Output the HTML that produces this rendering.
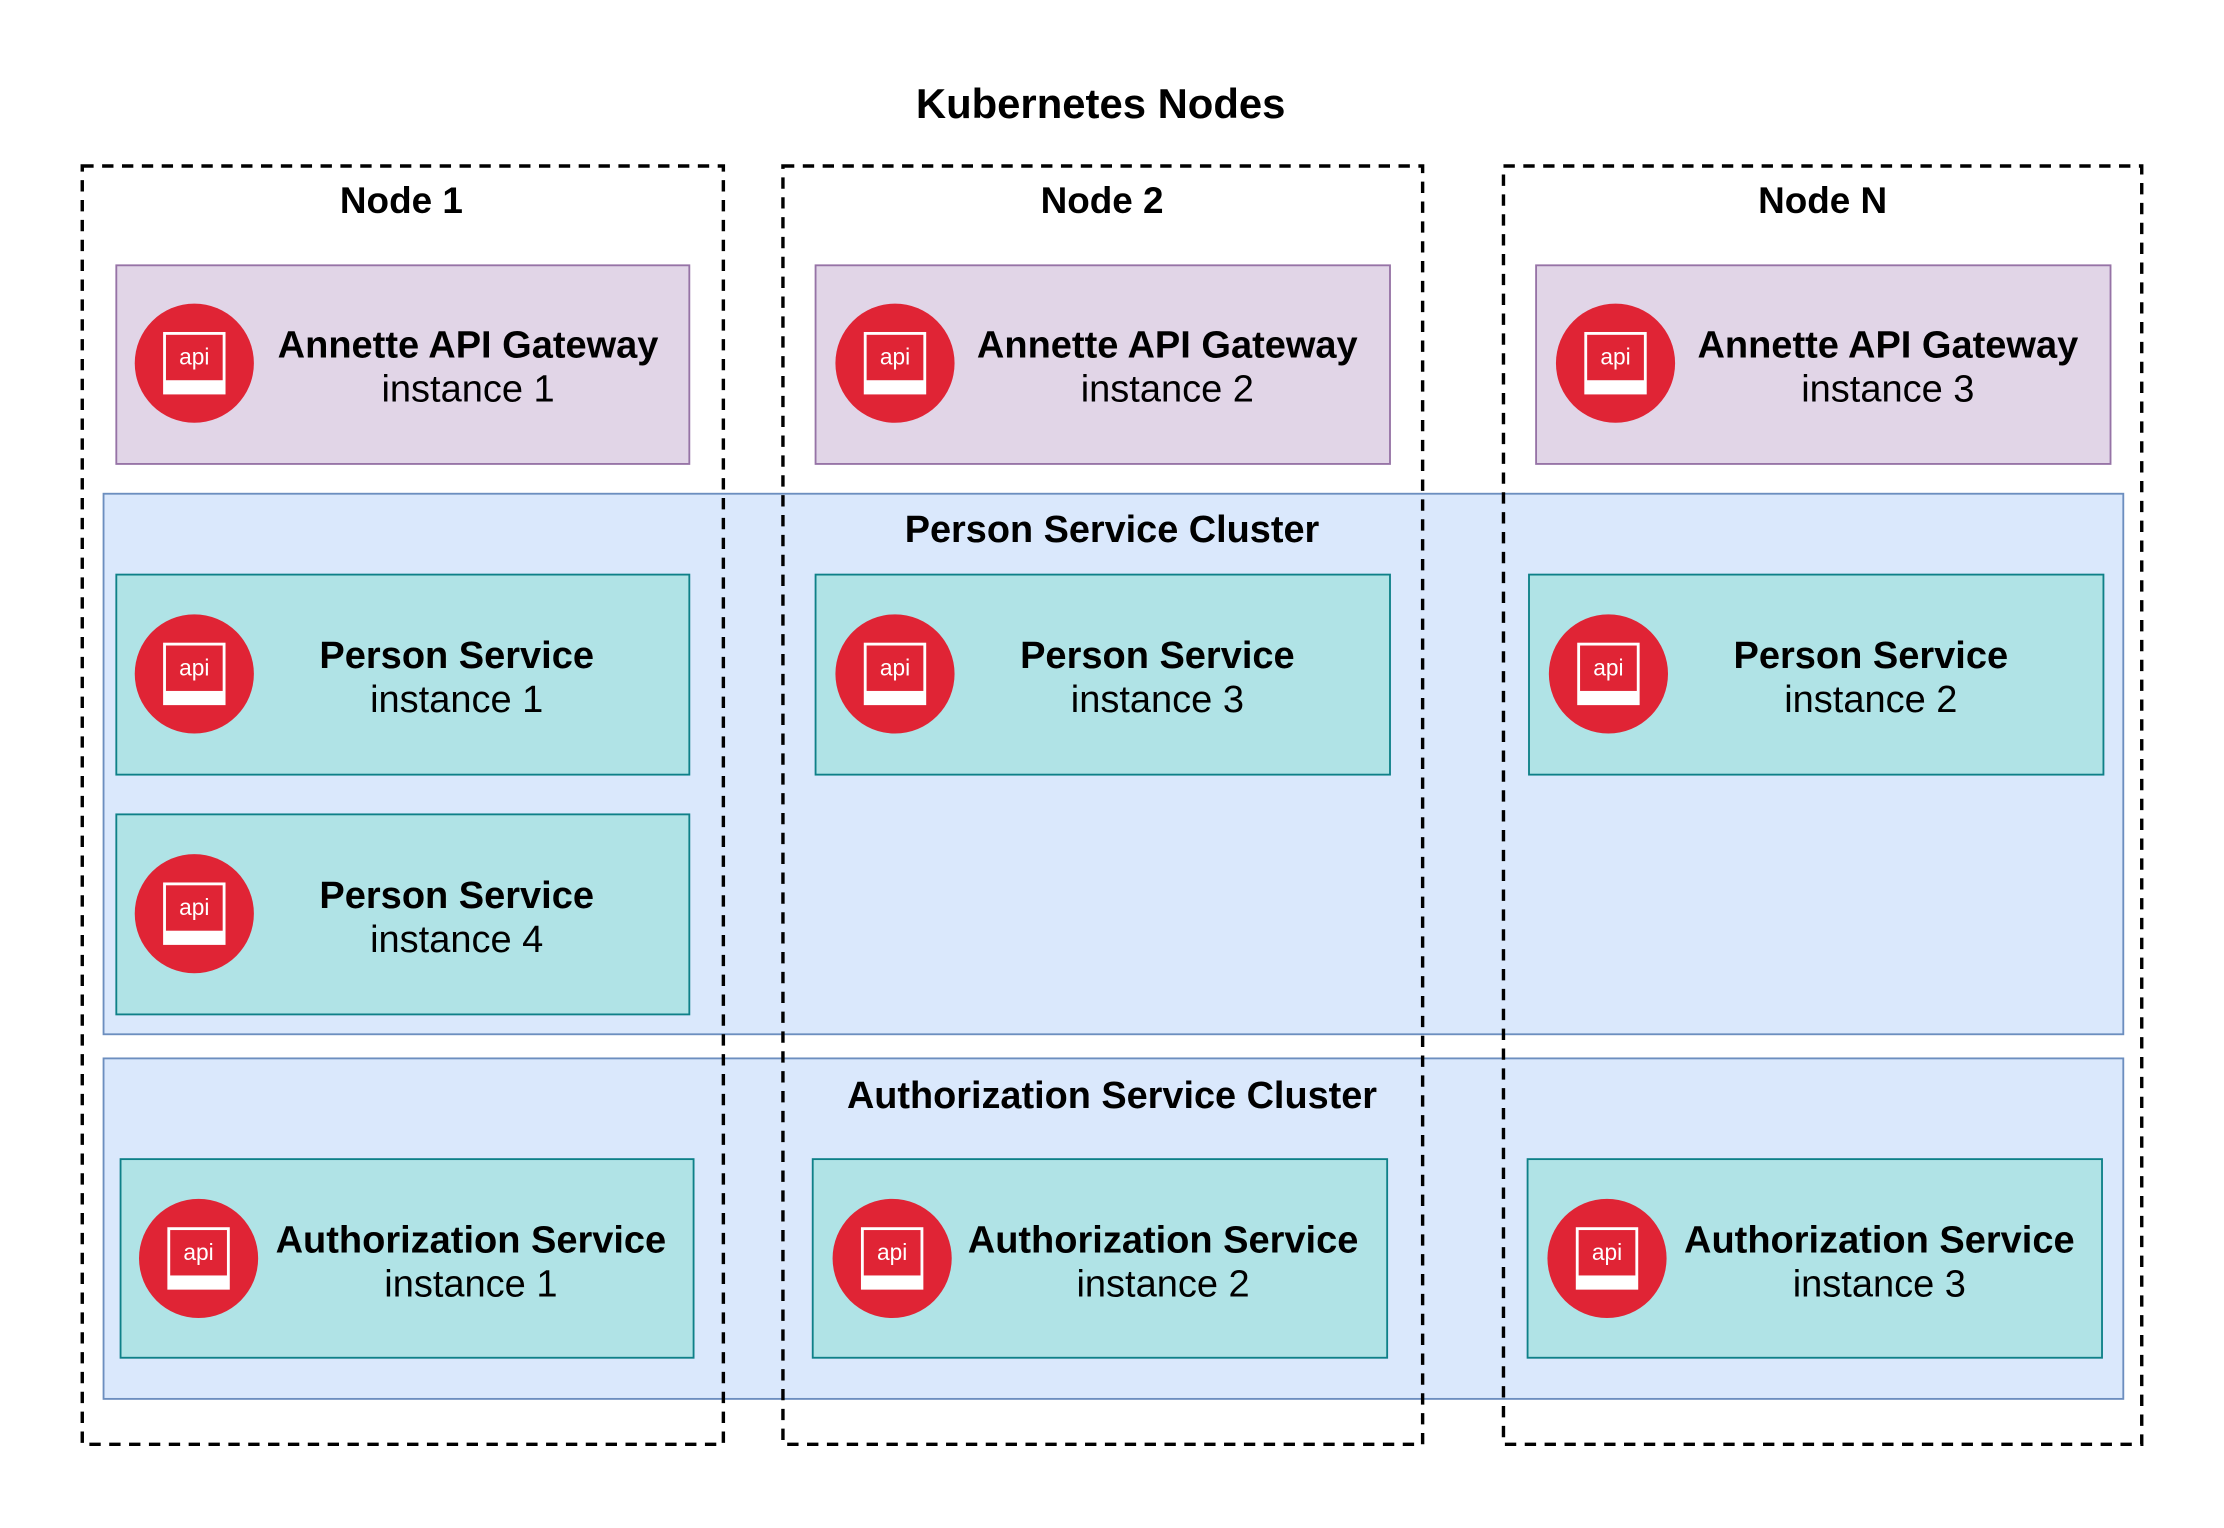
<!DOCTYPE html>
<html><head><meta charset="utf-8"><style>
html,body{margin:0;padding:0;background:#fff;}
svg{display:block;}
text{font-family:"Liberation Sans",Arial,sans-serif;}
</style></head><body>
<svg width="2224" height="1528" viewBox="0 0 1568 1077" preserveAspectRatio="none" xmlns="http://www.w3.org/2000/svg">
<defs>
<g id="ic">
<circle cx="0" cy="0" r="42" fill="#e02435"/>
<rect x="-22" y="-22" width="44" height="44" fill="#fff"/>
<rect x="-20" y="-20" width="40" height="32" fill="#e02435"/>
<text x="0" y="1" font-size="16" fill="#fff" text-anchor="middle">api</text>
</g>
</defs>
<rect width="1568" height="1077" fill="#fff"/>
<text x="776" y="83" font-size="29.5" font-weight="bold" text-anchor="middle">Kubernetes Nodes</text>

<g stroke="#9673a6" stroke-width="1.3" fill="#e1d5e7">
<rect x="82" y="187" width="404" height="140"/>
<rect x="575" y="187" width="405" height="140"/>
<rect x="1083" y="187" width="405" height="140"/>
</g>
<rect x="73" y="348" width="1424" height="381" fill="#dae8fc" stroke="#6c8ebf" stroke-width="1.3"/>
<rect x="73" y="746" width="1424" height="240" fill="#dae8fc" stroke="#6c8ebf" stroke-width="1.3"/>
<text x="784" y="382" font-size="26.7" font-weight="bold" text-anchor="middle">Person Service Cluster</text>
<text x="784" y="781" font-size="26.7" font-weight="bold" text-anchor="middle">Authorization Service Cluster</text>

<g stroke="#0e8088" stroke-width="1.3" fill="#b0e3e6">
<rect x="82" y="405" width="404" height="141"/>
<rect x="575" y="405" width="405" height="141"/>
<rect x="1078" y="405" width="405" height="141"/>
<rect x="82" y="574" width="404" height="141"/>
<rect x="85" y="817" width="404" height="140"/>
<rect x="573" y="817" width="405" height="140"/>
<rect x="1077" y="817" width="405" height="140"/>
</g>

<use href="#ic" x="137" y="256"/>
<use href="#ic" x="631" y="256"/>
<use href="#ic" x="1139" y="256"/>
<use href="#ic" x="137" y="475"/>
<use href="#ic" x="631" y="475"/>
<use href="#ic" x="1134" y="475"/>
<use href="#ic" x="137" y="644"/>
<use href="#ic" x="140" y="887"/>
<use href="#ic" x="629" y="887"/>
<use href="#ic" x="1133" y="887"/>

<g font-size="26.8" text-anchor="middle">
<text x="330" y="252" font-weight="bold">Annette API Gateway</text><text x="330" y="283">instance 1</text>
<text x="823" y="252" font-weight="bold">Annette API Gateway</text><text x="823" y="283">instance 2</text>
<text x="1331" y="252" font-weight="bold">Annette API Gateway</text><text x="1331" y="283">instance 3</text>
<text x="322" y="471" font-weight="bold">Person Service</text><text x="322" y="502">instance 1</text>
<text x="816" y="471" font-weight="bold">Person Service</text><text x="816" y="502">instance 3</text>
<text x="1319" y="471" font-weight="bold">Person Service</text><text x="1319" y="502">instance 2</text>
<text x="322" y="640" font-weight="bold">Person Service</text><text x="322" y="671">instance 4</text>
<text x="332" y="883" font-weight="bold">Authorization Service</text><text x="332" y="914">instance 1</text>
<text x="820" y="883" font-weight="bold">Authorization Service</text><text x="820" y="914">instance 2</text>
<text x="1325" y="883" font-weight="bold">Authorization Service</text><text x="1325" y="914">instance 3</text>
</g>

<g fill="none" stroke="#000" stroke-width="2.4" stroke-dasharray="8 6">
<rect x="58" y="117" width="452" height="901"/>
<rect x="552" y="117" width="451" height="901"/>
<rect x="1060" y="117" width="450" height="901"/>
</g>
<g font-size="26" font-weight="bold" text-anchor="middle">
<text x="283" y="150">Node 1</text>
<text x="777" y="150">Node 2</text>
<text x="1285" y="150">Node N</text>
</g>
</svg>
</body></html>
